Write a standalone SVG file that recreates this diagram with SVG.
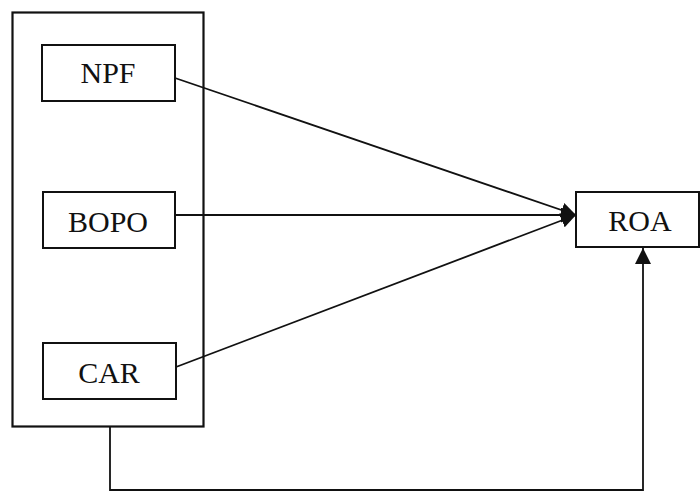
<svg xmlns="http://www.w3.org/2000/svg" width="700" height="493" viewBox="0 0 700 493">
<style>
.box{fill:#fff;stroke:#111;stroke-width:2}
.outer{fill:none;stroke:#111;stroke-width:2.2}
.lbl{font-family:"Liberation Serif","Times New Roman",serif;font-size:30px;fill:#111;text-anchor:middle}
.ln{fill:none;stroke:#111;stroke-width:1.8}
</style>
<defs>
<marker id="ah" viewBox="0 0 10 10" refX="10" refY="5" markerWidth="15" markerHeight="15" markerUnits="userSpaceOnUse" orient="auto">
<path d="M0,0 L10,5 L0,10 z" fill="#111"/>
</marker>
<marker id="ah2" viewBox="0 0 10 10" refX="10" refY="5" markerWidth="16" markerHeight="16" markerUnits="userSpaceOnUse" orient="auto">
<path d="M0,0 L10,5 L0,10 z" fill="#111"/>
</marker>
</defs>
<g id="group-box"><rect class="outer" x="12.5" y="12.5" width="191" height="414"/></g>
<g id="npf"><rect class="box" x="42" y="45" width="133" height="56"/><text class="lbl" x="108" y="83">NPF</text></g>
<g id="bopo"><rect class="box" x="43" y="192" width="132" height="56"/><text class="lbl" x="108" y="232">BOPO</text></g>
<g id="car"><rect class="box" x="43" y="343" width="133" height="56"/><text class="lbl" x="109" y="383">CAR</text></g>
<g id="roa"><rect class="box" x="576" y="192" width="123" height="55"/><text class="lbl" x="640" y="231">ROA</text></g>
<g id="connectors">
<line class="ln" x1="175" y1="78" x2="576" y2="215" marker-end="url(#ah)"/>
<line class="ln" x1="175" y1="215" x2="576" y2="215" marker-end="url(#ah)"/>
<line class="ln" x1="176" y1="367" x2="576" y2="215" marker-end="url(#ah)"/>
<polyline class="ln" points="110,427 110,490 643,490 643,248" marker-end="url(#ah2)"/>
</g>
</svg>
